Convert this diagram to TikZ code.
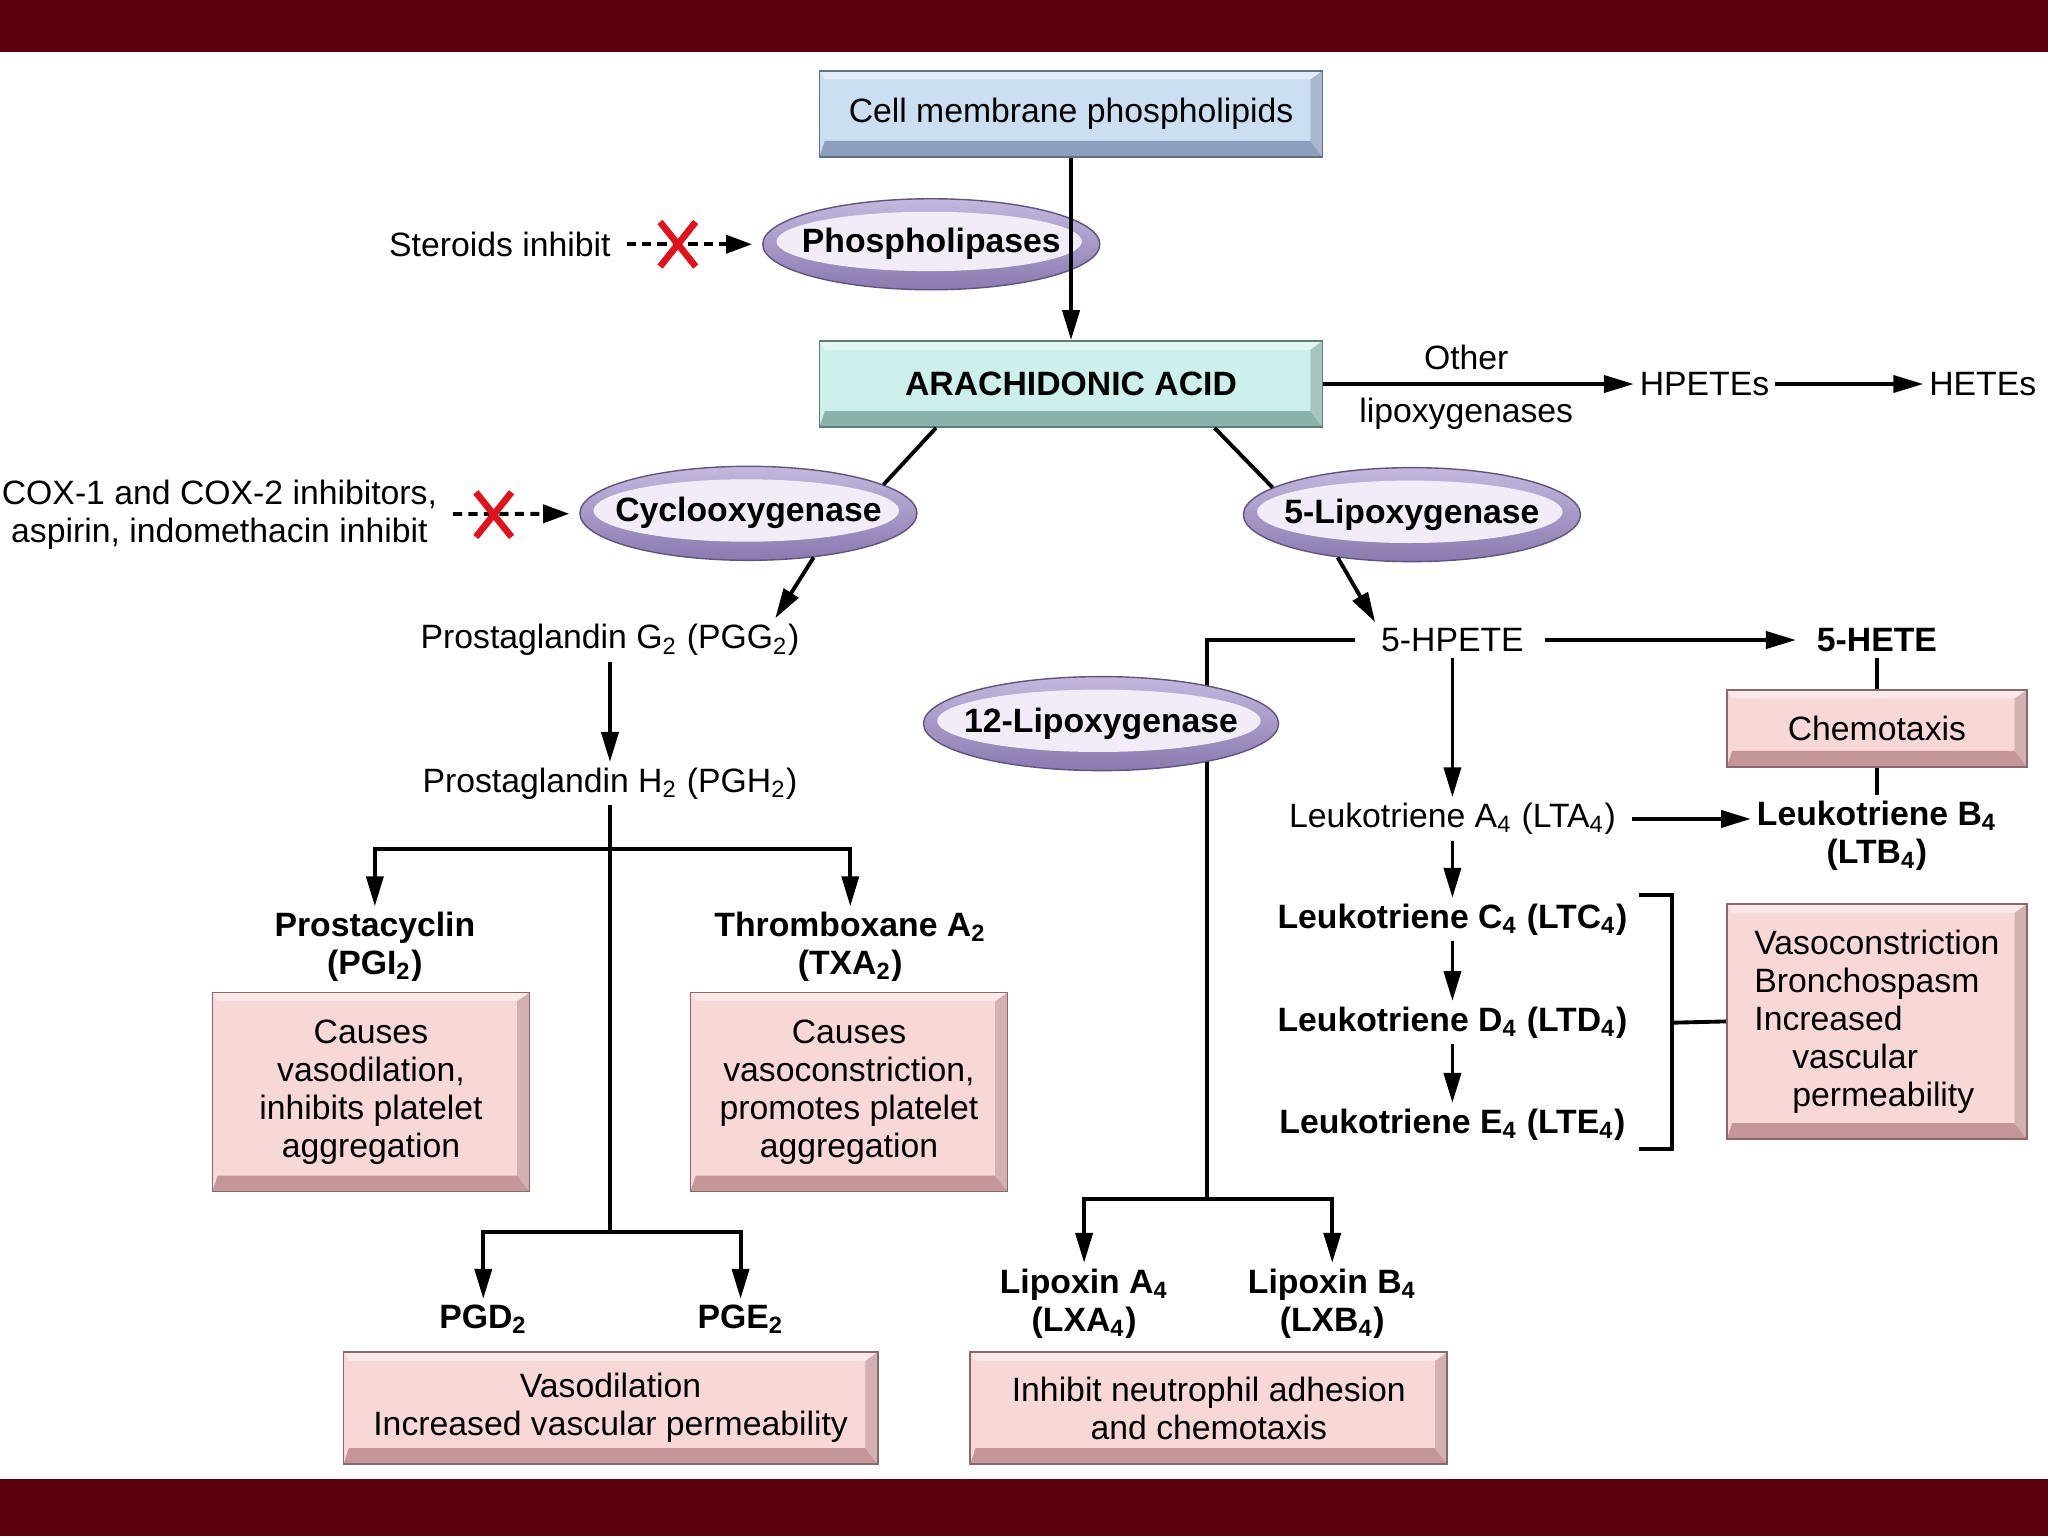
\documentclass[tikz,border=0pt]{standalone}
\usepackage{fontspec}
\setmainfont{Liberation Sans}
\usetikzlibrary{arrows.meta,shapes.geometric,shapes.misc,calc}
\definecolor{barred}{RGB}{94,0,12}
\definecolor{cellfill}{RGB}{204,223,242}
\definecolor{celledge}{RGB}{140,160,190}
\definecolor{arachfill}{RGB}{206,240,236}
\definecolor{arachedge}{RGB}{136,178,170}
\definecolor{pinkfill}{RGB}{248,215,215}
\definecolor{pinkedge}{RGB}{196,150,153}
\definecolor{rimtop}{RGB}{196,184,222}
\definecolor{rimbot}{RGB}{138,122,176}
\definecolor{ellin}{RGB}{242,236,248}
\definecolor{inhibred}{RGB}{220,20,30}

\begin{document}
\begin{tikzpicture}[x=0.1306mm, y=-0.1306mm,
  txt/.style={font=\fontsize{9.6}{10.8}\selectfont, align=center, inner sep=1.5pt},
  btxt/.style={txt, font=\fontsize{9.6}{10.8}\selectfont\bfseries},
  bevel/.style={path picture={
    \fill[#1] (path picture bounding box.south west) -- (path picture bounding box.south east)
      -- ([shift={(-3.5pt,4.5pt)}]path picture bounding box.south east)
      -- ([shift={(1.5pt,4.5pt)}]path picture bounding box.south west) -- cycle;
    \fill[#1!75] (path picture bounding box.south east) -- (path picture bounding box.north east)
      -- ([shift={(-3.5pt,-2.5pt)}]path picture bounding box.north east)
      -- ([shift={(-3.5pt,4.5pt)}]path picture bounding box.south east) -- cycle;
    \fill[white,opacity=0.45] (path picture bounding box.north west) -- (path picture bounding box.north east)
      -- ([shift={(-3.5pt,-2.5pt)}]path picture bounding box.north east)
      -- ([shift={(1.5pt,-2.5pt)}]path picture bounding box.north west) -- cycle;
  }},
  box/.style 2 args={txt, rectangle, fill=#1, draw=#2!70!black, line width=0.5pt, bevel=#2},
  pinkbox/.style={box={pinkfill}{pinkedge}},
  ell/.style={btxt, ellipse, inner xsep=-4pt, inner ysep=0pt, minimum width=33.7mm, minimum height=9.4mm,
    top color=rimtop, bottom color=rimbot, draw=rimbot!70!black, line width=0.4pt,
    path picture={
      \fill[ellin] let \p1=(path picture bounding box.north east),
        \p2=(path picture bounding box.south west) in
        ($(\p1)!0.5!(\p2)+(-0.6pt,0.8pt)$) ellipse [x radius={0.5*(\x1-\x2)-4.5pt}, y radius={0.5*(\y1-\y2)-4.5pt}];
  }},
  line/.style={line width=1.1pt},
  arr/.style={line width=1.1pt, -{Triangle[length=3mm,width=1.7mm]}},
  dasharr/.style={line width=1.1pt, dash pattern=on 2.6pt off 1.8pt, -{Triangle[length=2.6mm,width=1.8mm]}, shorten >=1mm, shorten <=1mm},
  cross/.style={cross out, draw=inhibred, line width=1.9pt, minimum width=2.9mm, minimum height=3.8mm, inner sep=0pt}]
% frame
\useasboundingbox (0,0) rectangle (1568,1176);
\fill[white] (0,0) rectangle (1568,1176);
\fill[barred] (0,0) rectangle (1568,40);
\fill[barred] (0,1132) rectangle (1568,1176);
% top
\node[box={cellfill}{celledge}, minimum width=50.3mm, minimum height=8.6mm] (cell) at (820,87) {Cell membrane phospholipids};
\node[ell, minimum height=9.1mm] (phos) at (713,187) {Phospholipases};
\node[box={arachfill}{arachedge}, btxt, minimum width=50.3mm, minimum height=8.6mm] (arach) at (820,294) {ARACHIDONIC ACID};
\node[txt, anchor=east] (ster) at (472,187) {Steroids inhibit};
\node[txt] (hpetes) at (1305,294) {HPETEs};
\node[txt] (hetes) at (1518,294) {HETEs};
\node[ell] (cyclo) at (573,393) {Cyclooxygenase};
\node[ell] (lipo5) at (1081,394) {5-Lipoxygenase};
\node[txt] (cox) at (168,394) {COX-1 and COX-2 inhibitors,\\aspirin, indomethacin inhibit};
% cyclooxygenase branch
\node[txt] (pgg) at (467,490) {Prostaglandin G\textsubscript{2} (PGG\textsubscript{2})};
\node[txt] (pgh) at (467,600) {Prostaglandin H\textsubscript{2} (PGH\textsubscript{2})};
\node[btxt] (pgi) at (287,725) {Prostacyclin\\(PGI\textsubscript{2})};
\node[btxt] (txa) at (651,725) {Thromboxane A\textsubscript{2}\\(TXA\textsubscript{2})};
\node[pinkbox, minimum width=31.7mm, minimum height=19.9mm] (pgieff) at (284,836) {Causes\\vasodilation,\\inhibits platelet\\aggregation};
\node[pinkbox, minimum width=31.7mm, minimum height=19.9mm] (txaeff) at (650,836) {Causes\\vasoconstriction,\\promotes platelet\\aggregation};
\node[btxt] (pgd) at (370,1010) {PGD\textsubscript{2}};
\node[btxt] (pge) at (567,1010) {PGE\textsubscript{2}};
\node[pinkbox, minimum width=53.4mm, minimum height=11.2mm] (pgdeff) at (467.5,1078) {Vasodilation\\Increased vascular permeability};
% lipoxygenase branch
\node[txt] (hpete) at (1112,490) {5-HPETE};
\node[btxt] (hete) at (1437,490) {5-HETE};
\node[pinkbox, minimum width=30mm, minimum height=7.7mm] (chemo) at (1437,557.5) {Chemotaxis};
\node[txt] (lta) at (1112,627) {Leukotriene A\textsubscript{4} (LTA\textsubscript{4})};
\node[btxt] (ltb) at (1437,640) {Leukotriene B\textsubscript{4}\\(LTB\textsubscript{4})};
\node[btxt] (ltc) at (1112,704) {Leukotriene C\textsubscript{4} (LTC\textsubscript{4})};
\node[btxt] (ltd) at (1112,783) {Leukotriene D\textsubscript{4} (LTD\textsubscript{4})};
\node[btxt] (lte) at (1112,861) {Leukotriene E\textsubscript{4} (LTE\textsubscript{4})};
\node[pinkbox, align=left, minimum width=30mm, minimum height=23.5mm] (lteff) at (1437,782) {Vasoconstriction\\Bronchospasm\\Increased\\\hspace*{10.8pt}vascular\\\hspace*{10.8pt}permeability};
\node[btxt] (lxa) at (830,998) {Lipoxin A\textsubscript{4}\\(LXA\textsubscript{4})};
\node[btxt] (lxb) at (1020,998) {Lipoxin B\textsubscript{4}\\(LXB\textsubscript{4})};
\node[pinkbox, minimum width=47.7mm, minimum height=11.2mm] (lxeff) at (925.5,1078) {Inhibit neutrophil adhesion\\and chemotaxis};
% forks
\coordinate (f1) at (467,650);
\coordinate (f2) at (467,943);
\coordinate (f3) at (924,918);
\coordinate (brk) at (1280,783);
% connectors
\draw[arr] (cell.south) -- (arach.north);
\draw[dasharr] (ster) -- (phos);
\draw[dasharr] (cox) -- (cyclo);
\draw[arr] (arach.east) -- node[txt, above=2pt, pos=0.46] (oth) {Other} node[txt, below=2pt, pos=0.46] (lox) {lipoxygenases} (hpetes.west);
\draw[arr] (hpetes.east) -- (hetes.west);
\draw[line] (arach.198) -- (cyclo.12);
\draw[line] (arach.-17) -- (lipo5.169);
\draw[arr] (cyclo.-34) -- ([xshift=-3mm]pgg.north east);
\draw[arr] (lipo5.210) -- (hpete.north west);
\draw[arr] (pgg.south) -- (pgh.north);
\draw[line] (pgh.south) -- (f2);
\draw[arr] (f1) -| (pgi.north);
\draw[arr] (f1) -| (txa.north);
\draw[arr] (f2) -| (pgd.north);
\draw[arr] (f2) -| (pge.north);
\draw[arr, shorten <=1.5mm, shorten >=1.5mm] (hpete.east) -- (hete.west);
\draw[line] (hete.south) -- (chemo.north);
\draw[line] (chemo.south) -- (ltb.north);
\draw[arr] (hpete.south) -- (lta.north);
\draw[arr, shorten <=1mm] (lta.east) -- (lta.east -| ltb.west);
\draw[arr] (lta.south) -- (ltc.north);
\draw[arr] (ltc.south) -- (ltd.north);
\draw[arr] (ltd.south) -- (lte.north);
\draw[line] (1255,685) -| (1280,880) -- (1255,880);
\draw[line] (brk) -- (lteff.west);
\draw[line, shorten <=2mm] (hpete.west) -| (f3);
\draw[arr] (f3) -| (lxa.north);
\draw[arr] (f3) -| (lxb.north);
\node[ell, minimum width=35.5mm] (lipo12) at (843,554) {12-Lipoxygenase};
% inhibitors
\node[cross] (xster) at (519,187) {};
\node[cross] (xcox) at (378,394) {};
\end{tikzpicture}
\end{document}
